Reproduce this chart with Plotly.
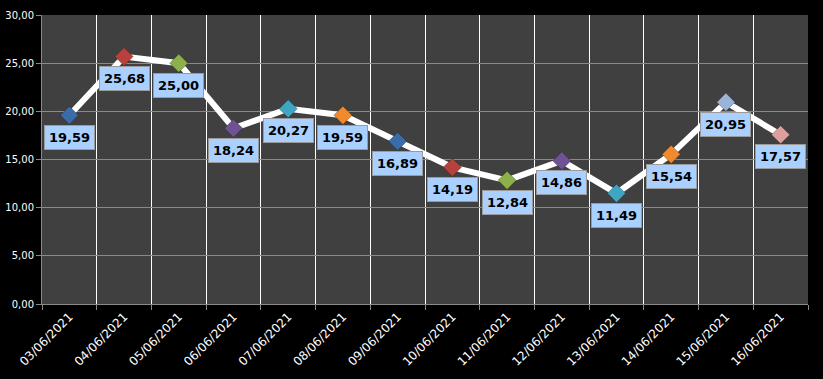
import plotly.graph_objects as go

dates = ["03/06/2021", "04/06/2021", "05/06/2021", "06/06/2021", "07/06/2021",
         "08/06/2021", "09/06/2021", "10/06/2021", "11/06/2021", "12/06/2021",
         "13/06/2021", "14/06/2021", "15/06/2021", "16/06/2021"]
values = [19.59, 25.68, 25.00, 18.24, 20.27, 19.59, 16.89, 14.19, 12.84, 14.86,
          11.49, 15.54, 20.95, 17.57]
marker_colors = ["#3b6ba8", "#b8413e", "#8cb04a", "#6e5294", "#3ea6c2", "#f08a2c",
                 "#3b6ba8", "#b8413e", "#8cb04a", "#6e5294", "#3ea6c2", "#f08a2c",
                 "#9ab4d8", "#dba09e"]
y_ticks = [0, 5, 10, 15, 20, 25, 30]

fig = go.Figure()
fig.add_trace(go.Scatter(
    x=dates, y=values, mode="lines+markers",
    line=dict(color="white", width=6),
    marker=dict(symbol="diamond", size=14, color=marker_colors,
                line=dict(color="rgba(0,0,0,0.25)", width=1)),
    hoverinfo="skip", showlegend=False,
))

for d, v in zip(dates, values):
    fig.add_annotation(
        x=d, y=v, text="<b>" + f"{v:.2f}".replace(".", ",") + "</b>",
        showarrow=False, yshift=-22, xshift=0,
        font=dict(family="DejaVu Sans", size=13, color="black"),
        bgcolor="#a9d0ff", bordercolor="#9a9a9a", borderwidth=1, borderpad=4,
    )

fig.update_layout(
    width=823, height=379,
    margin=dict(l=42, r=15, t=15, b=75, autoexpand=False),
    paper_bgcolor="black", plot_bgcolor="#404040",
    separators=",.",
    font=dict(family="DejaVu Sans", size=11, color="white"),
)
fig.update_xaxes(
    type="category", tickson="boundaries", tickangle=-45, automargin=False,
    showgrid=True, gridcolor="white", gridwidth=1,
    showline=True, linecolor="#8a8a8a", linewidth=1,
    ticks="outside", ticklen=5, tickcolor="#8a8a8a",
    tickfont=dict(family="DejaVu Sans", size=12, color="white"),
    range=[-0.5, 13.5], zeroline=False,
)
fig.update_yaxes(
    range=[0, 30], tickvals=y_ticks, tickformat=".2f", automargin=False,
    showgrid=True, gridcolor="#8a8a8a", gridwidth=1,
    showline=True, linecolor="#8a8a8a", linewidth=1,
    ticks="outside", ticklen=5, tickcolor="#8a8a8a",
    tickfont=dict(family="DejaVu Sans", size=10, color="white"),
    zeroline=False,
)

fig.write_html(
    "out.html",
    config={"displayModeBar": False},
    post_script="document.body.style.margin='0';document.body.style.background='black';",
)
